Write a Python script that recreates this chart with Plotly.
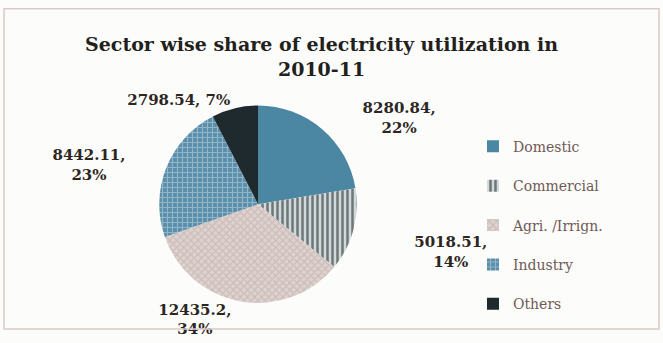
import plotly.graph_objects as go

# ---- data ----
sectors = ["Domestic", "Commercial", "Agri. /Irrign.", "Industry", "Others"]
values = [8280.84, 5018.51, 12435.2, 8442.11, 2798.54]
percents = [22, 14, 34, 23, 7]
title_text = "Sector wise share of electricity utilization in<br>2010-11"

# ---- styles ----
colors = ["#4b87a3", "#cfdadd", "#e4d0ca", "#5a8eaa", "#1f2a2f"]
shapes = ["", "|", "x", "+", ""]
fgcolors = ["#4b87a3", "#111111", "#9eacb3", "#c9dce5", "#1f2a2f"]
sizes = [5, 5, 5, 5, 5]
solid = [0.4, 0.5, 0.4, 0.4, 0.4]

NB = "\u00a0"
lead = [6, 8, 0, 0, 0]     # label padding (non-breaking spaces) before the text
trail = [0, 0, 0, 6, 0]    # label padding after the text
top = [0, 2, 0, 0, 0]      # blank padding lines above the text
base = ["%{value:.7~g},<br>%{customdata}%"] * 4 + ["%{value:.7~g}, %{customdata}%"]
templates = []
for b, l, t, k in zip(base, lead, trail, top):
    parts = [NB] * k + b.split("<br>")
    templates.append("<br>".join(NB * l + p + NB * t for p in parts))

W, H = 663, 343
cx, cy, r = 258, 211, 102

legend_labels = [s + "<br> " for s in sectors]

fig = go.Figure(go.Pie(
    labels=legend_labels,
    values=values,
    customdata=percents,
    texttemplate=templates,
    textposition="outside",
    sort=False,
    direction="clockwise",
    rotation=0,
    marker=dict(
        colors=colors,
        line=dict(width=0),
        pattern=dict(shape=shapes, fgcolor=fgcolors, size=sizes, solidity=solid,
                     fillmode="overlay"),
    ),
    outsidetextfont=dict(family="DejaVu Serif", size=15, color="#2b2622", weight="bold"),
    domain=dict(x=[(cx - r) / W, (cx + r) / W], y=[1 - (cy + r) / H, 1 - (cy - r) / H]),
    showlegend=True,
))

fig.update_layout(
    width=W, height=H,
    margin=dict(l=0, r=0, t=0, b=0),
    paper_bgcolor="#fcfcfb",
    title=dict(text=title_text, x=0.485, xanchor="center", y=1 - 51 / H, yanchor="top",
               font=dict(family="DejaVu Serif", size=19, color="#231f1c", weight="bold")),
    legend=dict(x=473 / W, y=1 - 135 / H, xanchor="left", yanchor="top",
                font=dict(family="DejaVu Serif", size=14, color="#6e5a55"),
                valign="top", bgcolor="rgba(0,0,0,0)", itemwidth=30),
    shapes=[dict(type="rect", xref="paper", yref="paper",
                 x0=4 / W, x1=659 / W, y0=1 - 340 / H, y1=1 - 9 / H,
                 line=dict(color="#dcc8c8", width=1.5), fillcolor="rgba(0,0,0,0)")],
)

fig.write_html("out.html")
